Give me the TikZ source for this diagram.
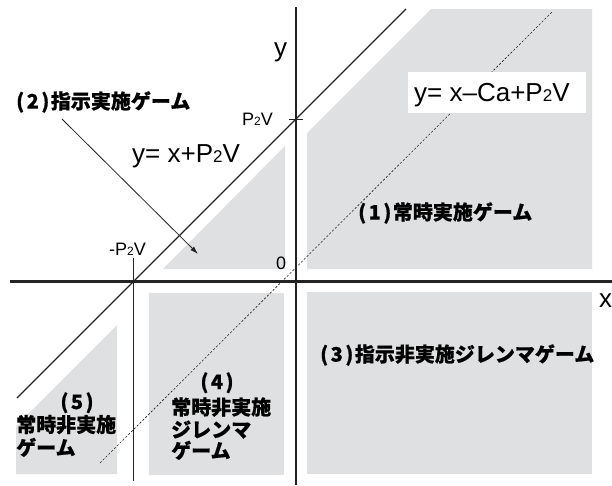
\documentclass[tikz,border=0pt]{standalone}
\usepackage{fontspec}
\setmainfont{Liberation Sans}
\newfontfamily\jp{Noto Sans CJK JP}[BoldFeatures={FakeBold=0.6}]
\usetikzlibrary{arrows.meta}
\definecolor{zone}{RGB}{223,224,226}
\definecolor{ink}{RGB}{35,35,35}
\newcommand\subtwo[1]{{\fontsize{#1}{#1}\selectfont 2}}
\newcommand\regnum[1]{(\kern2.5pt#1\kern2.5pt)\kern1.5pt}
\begin{document}
\begin{tikzpicture}[x=1pt,y=-1pt,
  zonefill/.style={fill=zone,draw=none},
  axisline/.style={line width=2.6pt,draw=ink},
  diagline/.style={line width=1.3pt,draw=ink},
  thinline/.style={line width=0.8pt,draw=ink},
  dashline/.style={line width=0.6pt,draw=ink,dash pattern=on 2.2pt off 1.8pt},
  jplabel/.style={inner sep=0pt,font=\jp\bfseries\fontsize{20pt}{22pt}\selectfont,text height=17.6pt,text depth=2.4pt},
  biglabel/.style={inner sep=0pt,anchor=base west,font=\fontsize{26pt}{26pt}\selectfont},
  smalllabel/.style={inner sep=0pt,font=\fontsize{18pt}{18pt}\selectfont},
]
\useasboundingbox (0,0) rectangle (612,485);
% gray zones
\fill[zonefill] (307,133) -- (431,9) -- (592,9) -- (592,269) -- (307,269) -- cycle;
\fill[zonefill] (163,269) -- (285,269) -- (285,146) -- cycle;
\fill[zonefill] (307,292) rectangle (592,474);
\fill[zonefill] (149,293) rectangle (284,475);
\fill[zonefill] (16,426) -- (117,325) -- (117,474) -- (16,474) -- cycle;
% coordinates
\coordinate (xL) at (10,281.5);
\coordinate (xR) at (612,281.5);
\coordinate (yT) at (296,7);
\coordinate (yB) at (296,485);
\coordinate (d1) at (17,398);
\coordinate (d2) at (406,9);
\coordinate (v1) at (133,258);
\coordinate (v2) at (133,481);
\coordinate (c1) at (100,463);
\coordinate (c2) at (553,11);
\coordinate (t1) at (289,119.5);
\coordinate (t2) at (303,119.5);
\coordinate (arrS) at (62,119);
\coordinate (arrE) at (198,254);
% lines
\draw[dashline] (c1) -- (c2);
\draw[thinline] (v1) -- (v2);
\draw[diagline] (d1) -- (d2);
\draw[axisline] (xL) -- (xR);
\draw[axisline] (yT) -- (yB);
\draw[line width=0.8pt,draw=ink] (t1) -- (t2);
\draw[thinline,-{Latex[length=8pt,width=5pt]}] (arrS) -- (arrE);
% equation box
\node[fill=white,minimum width=178pt,minimum height=41pt,inner sep=0pt] (eqbox) at (497,92.5) {};
\node[biglabel] (eq2) at (414,101.5) {y= x–Ca+P\subtwo{17pt}V};
\node[biglabel] (eq1) at (132,162) {y= x+P\subtwo{17pt}V};
% axis labels
\node[biglabel] (ylab) at (274,56.5) {y};
\node[biglabel] (xlab) at (599,307) {x};
\node[smalllabel,anchor=base east] (pv) at (273,125) {P\subtwo{12pt}V};
\node[smalllabel,anchor=base west] (mpv) at (109,255) {-P\subtwo{12pt}V};
\node[smalllabel,anchor=base west] (zero) at (276,269) {0};
% region labels
\node[jplabel,anchor=west] (r2) at (16,101) {\regnum{2}指示実施ゲーム};
\node[jplabel,anchor=west] (r1) at (358,212) {\regnum{1}常時実施ゲーム};
\node[jplabel,anchor=west] (r3) at (320,354) {\regnum{3}指示非実施ジレンマゲーム};
\node[jplabel] (r4a) at (217,381.5) {(\kern2.5pt4\kern2.5pt)};
\node[jplabel,anchor=west] (r4b) at (171,407) {常時非実施};
\node[jplabel,anchor=west] (r4c) at (171,429.5) {ジレンマ};
\node[jplabel,anchor=west] (r4d) at (171,450.5) {ゲーム};
\node[jplabel] (r5a) at (77,401.5) {(\kern2.5pt5\kern2.5pt)};
\node[jplabel,anchor=west] (r5b) at (16,424.5) {常時非実施};
\node[jplabel,anchor=west] (r5c) at (16,447.5) {ゲーム};
\end{tikzpicture}
\end{document}
